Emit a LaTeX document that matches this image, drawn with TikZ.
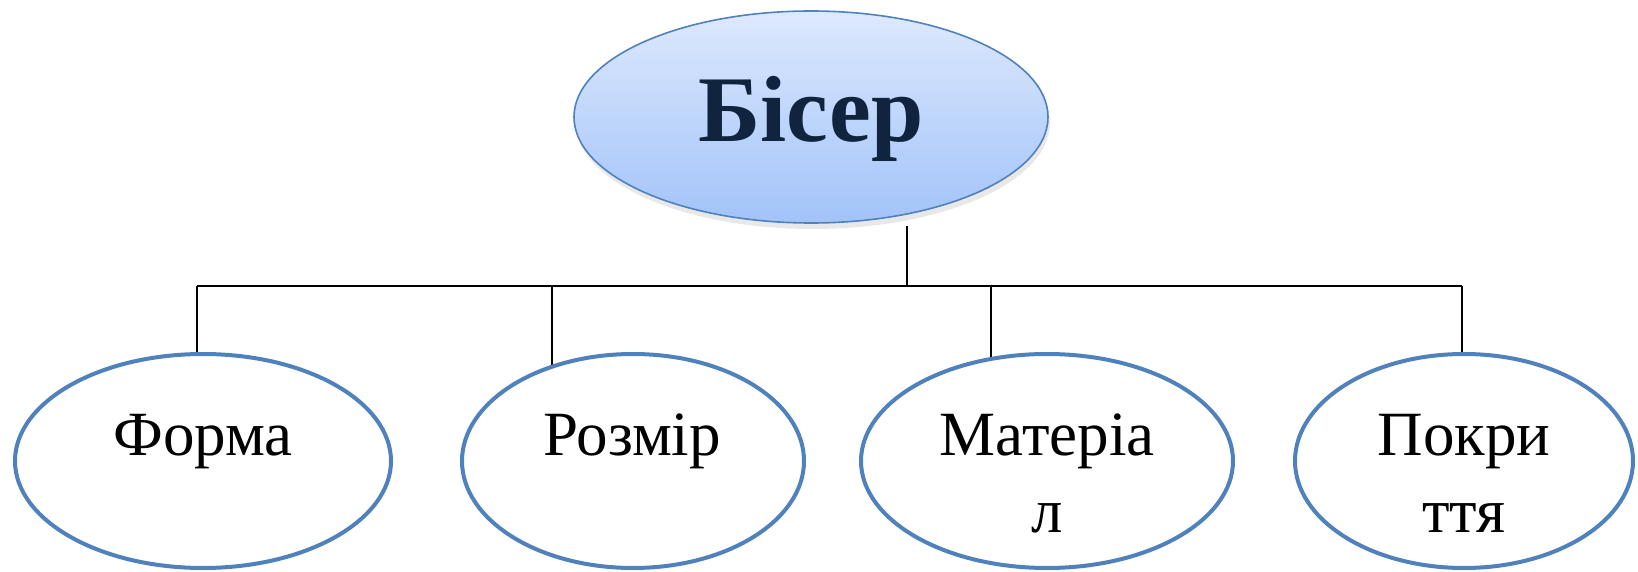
\documentclass[tikz,border=0pt]{standalone}
\usepackage{fontspec}
\setmainfont{Liberation Serif}
\usetikzlibrary{shapes.geometric,shadows,backgrounds}

\definecolor{beadblue}{HTML}{4F81BD}
\definecolor{beadtop}{HTML}{DDE9FD}
\definecolor{beadbottom}{HTML}{A2C3F9}
\definecolor{beadnavy}{HTML}{10243F}

\newcommand{\twolines}[2]{\begin{tabular}[t]{@{}c@{}}#1\\#2\end{tabular}}

\begin{document}
\begin{tikzpicture}[x=0.5pt,y=-0.5pt,
    topbead/.style={ellipse, draw=beadblue, line width=0.8pt,
        top color=beadtop, bottom color=beadbottom,
        minimum width=237pt, minimum height=106pt, inner sep=0pt,
        drop shadow={opacity=0.18, shadow xshift=1pt, shadow yshift=-3pt}},
    bead/.style={ellipse, draw=beadblue, line width=2pt, fill=white,
        minimum height=107pt, inner sep=0pt},
    beadtext/.style={anchor=base, inner sep=0pt,
        font=\rmfamily\fontsize{31.5}{38.5}\selectfont},
    link/.style={line width=1pt}]

    \useasboundingbox (0,0) rectangle (1638,572);

    \node[topbead, text=beadnavy, text height=34pt, text depth=9pt,
        font=\rmfamily\fontsize{47}{56}\selectfont\bfseries] (biser) at (811,117) {Бісер};

    \node[bead, minimum width=188pt] (forma) at (203,461) {};
    \node[bead, minimum width=171pt] (rozmir) at (633,461) {};
    \node[bead, minimum width=186pt] (material) at (1047,461) {};
    \node[bead, minimum width=169pt] (pokryttia) at (1464,461) {};

    \node[beadtext] (forma-text) at (203,455) {\twolines{Форма}{}};
    \node[beadtext] (rozmir-text) at (632,455) {\twolines{Розмір}{}};
    \node[beadtext] (material-text) at (1047,455) {\twolines{Матеріа}{л}};
    \node[beadtext] (pokryttia-text) at (1464,455) {\twolines{Покри}{ття}};

    \coordinate (hub) at (907,226);
    \coordinate (j1) at (197,286);
    \coordinate (j2) at (552,286);
    \coordinate (j3) at (991,286);
    \coordinate (j4) at (1462,286);

    \begin{scope}[on background layer]
        \draw[link] (hub) -- (hub |- j1);
        \draw[link] (j1) -- (j4);
        \draw[link] (j1) -- (j1 |- forma.center);
        \draw[link] (j2) -- (j2 |- rozmir.center);
        \draw[link] (j3) -- (j3 |- material.center);
        \draw[link] (j4) -- (j4 |- pokryttia.center);
    \end{scope}
\end{tikzpicture}
\end{document}
